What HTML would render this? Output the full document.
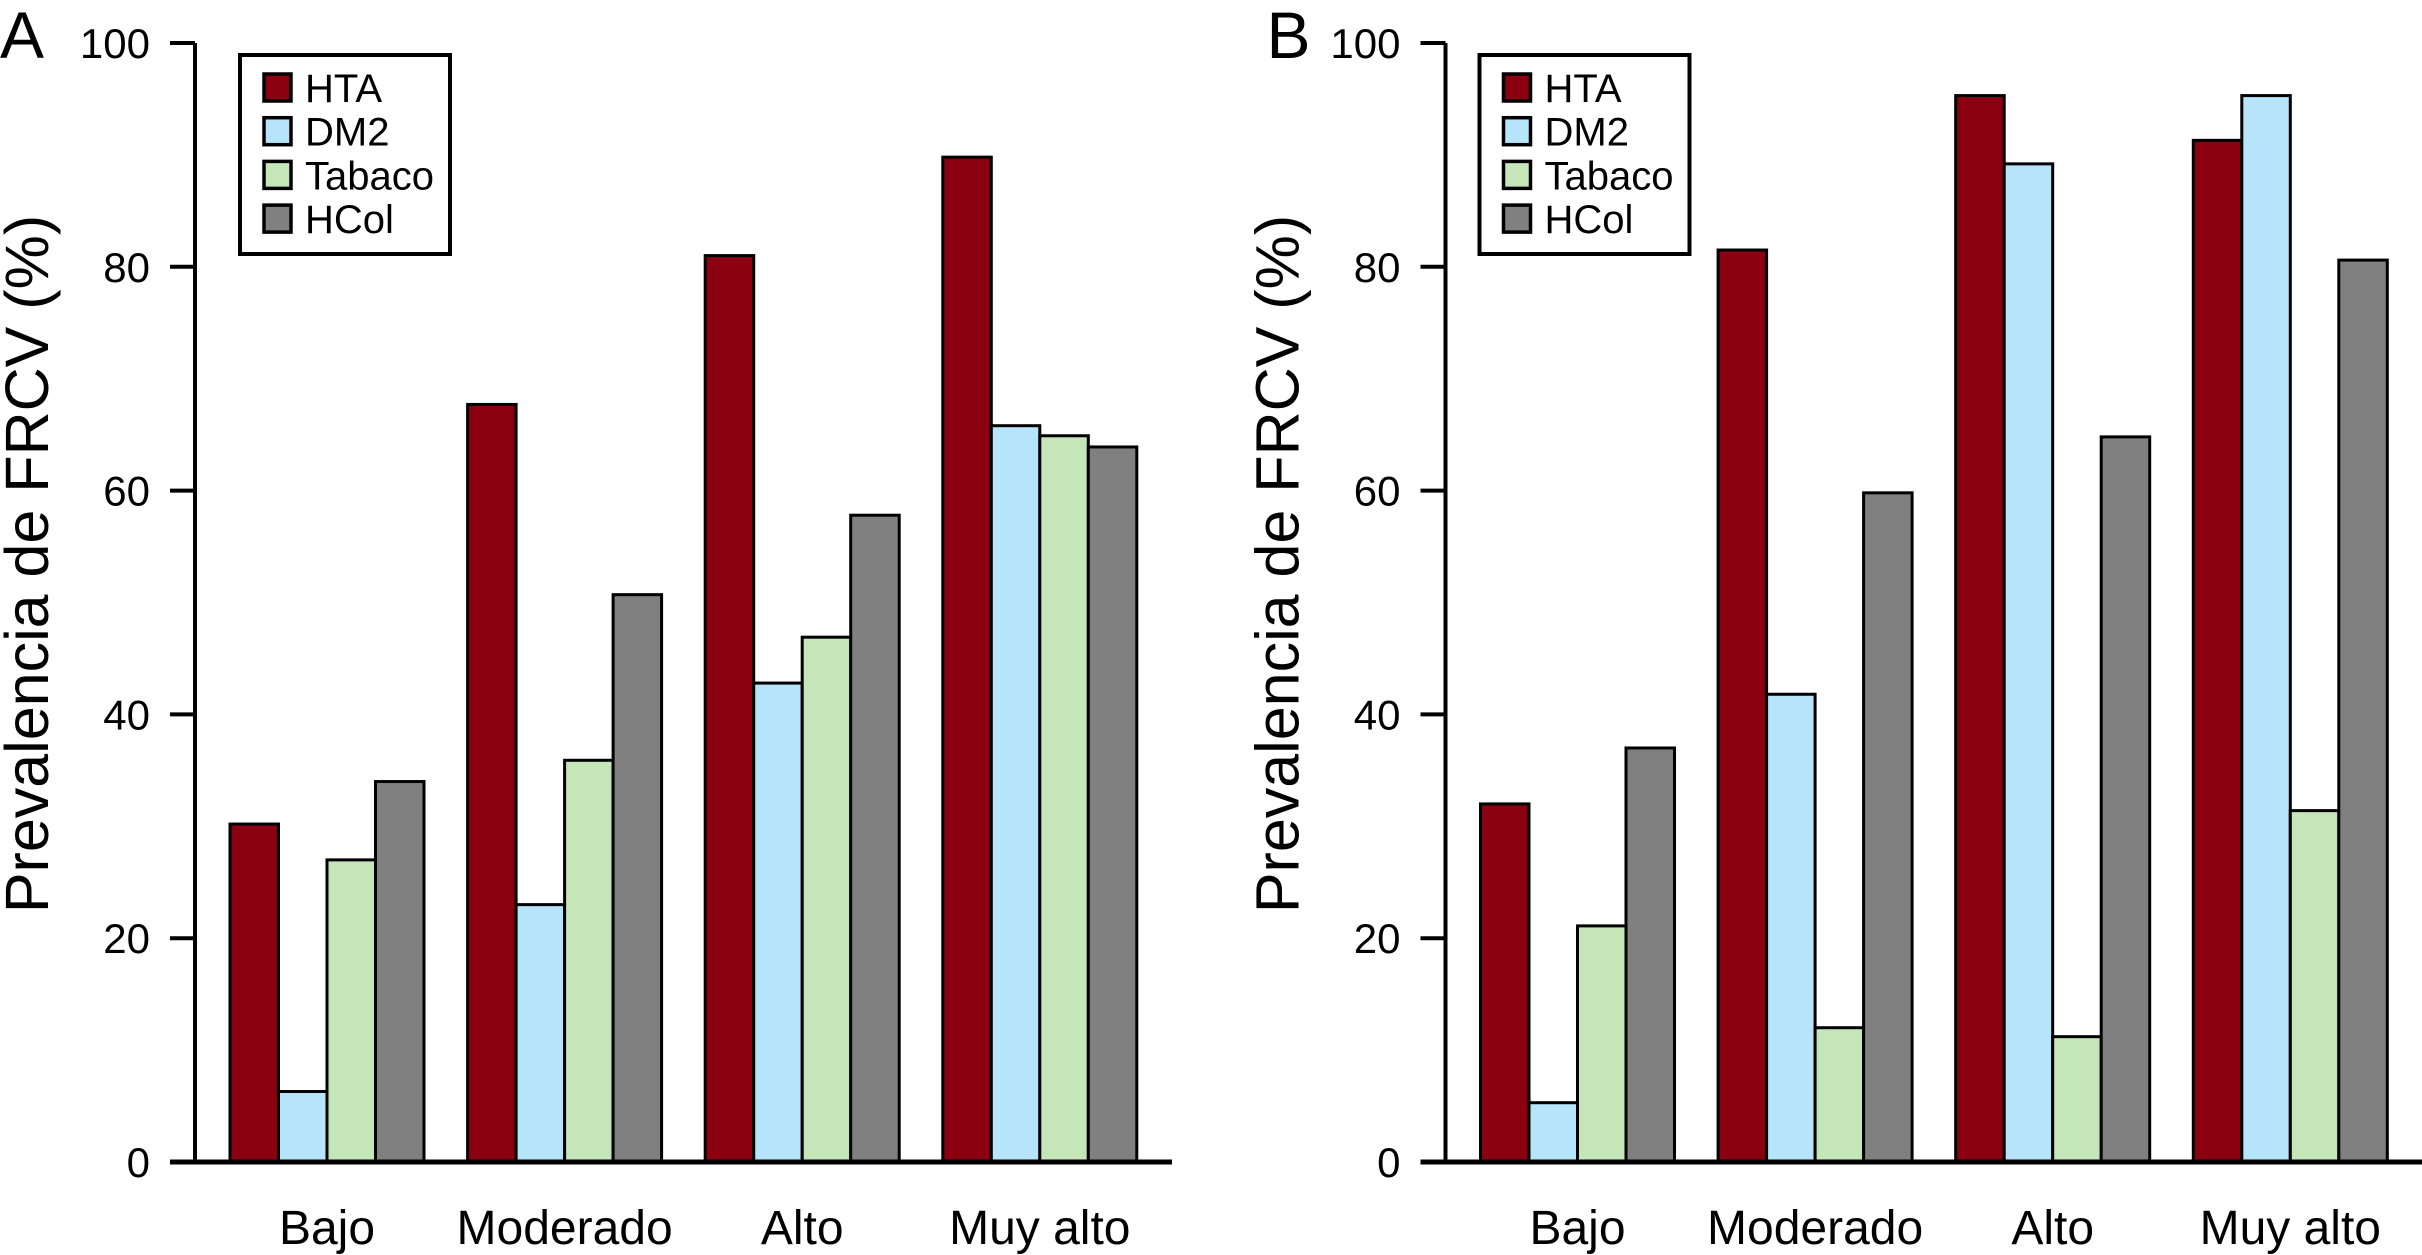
<!DOCTYPE html>
<html><head><meta charset="utf-8"><style>
html,body{margin:0;padding:0;background:#fff;}
svg{display:block;font-family:"Liberation Sans",Arial,sans-serif;}
</style></head><body>
<svg id="chart" width="2422" height="1255" viewBox="0 0 2422 1255" xmlns="http://www.w3.org/2000/svg"></svg>
<script>
const categories = ["Bajo","Moderado","Alto","Muy alto"];
const seriesNames = ["HTA","DM2","Tabaco","HCol"];
const seriesColors = ["#8b0010","#b5e4fb","#c5e6b8","#808080"];
const yTicks = [0,20,40,60,80,100];
const aHTA = [30.2,67.7,81,89.8];
const aDM2 = [6.3,23,42.8,65.8];
const aTabaco = [27,35.9,46.9,64.9];
const aHCol = [34,50.7,57.8,63.9];
const bHTA = [32,81.5,95.3,91.3];
const bDM2 = [5.3,41.8,89.2,95.3];
const bTabaco = [21.1,12,11.2,31.4];
const bHCol = [37,59.8,64.8,80.6];

const NS="http://www.w3.org/2000/svg";
const svg=document.getElementById('chart');
function mk(tag,attrs,parent){const e=document.createElementNS(NS,tag);for(const k in attrs)e.setAttribute(k,attrs[k]);(parent||svg).appendChild(e);return e;}
const y0=1162,y100=43;
function yScale(v){return y0-(y0-y100)*v/100;}

function panel(ox,letter,series,key){
  const g=mk('g',{});
  
  
  const axisX=ox+195, barW=48.5, groupStep=237.6, firstBar=ox+230;
  function xScale(ci,si){return firstBar+ci*groupStep+si*barW;}
  series.forEach((vals,si)=>{
    vals.forEach((v,ci)=>{
      const r=mk('rect',{x:xScale(ci,si),y:yScale(v),width:barW,height:y0-yScale(v),fill:seriesColors[si],stroke:'#000','stroke-width':3},g);
      
      
    });
  });
  const ya=mk('line',{x1:axisX,y1:yScale(100),x2:axisX,y2:y0,stroke:'#000','stroke-width':4},g);
  
  
  const xa=mk('line',{x1:ox+170,y1:y0,x2:key==='a'?ox+1172:2422,y2:y0,stroke:'#000','stroke-width':5},g);
  
  
  yTicks.forEach(t=>{
    const y=yScale(t);
    if(t>0){mk('line',{x1:ox+170,y1:y,x2:axisX,y2:y,stroke:'#000','stroke-width':4},g);}
    const tx=mk('text',{x:ox+150,y:y+15,'font-size':42,'text-anchor':'end'},g);
    tx.textContent=t;
    
    
  });
  categories.forEach((c,ci)=>{
    const cx=xScale(ci,0)+barW*2;
    const tx=mk('text',{x:cx,y:1244,'font-size':48,'text-anchor':'middle'},g);
    tx.textContent=c;
    
    
  });
  const yt=mk('text',{x:0,y:0,'font-size':61,'text-anchor':'middle',transform:'translate('+(ox+48)+',564) rotate(-90)'},g);
  yt.textContent='Prevalencia de FRCV (%)';
  
  
  const pl=mk('text',{x:ox+(key==='a'?0:16),y:58,'font-size':66},g);
  pl.textContent=letter;
  
  
  const lx=ox+(key==='a'?240:229);
  const lg=mk('g',{},g);
  
  
  mk('rect',{x:lx,y:55,width:210,height:199,fill:'#fff',stroke:'#000','stroke-width':4},lg);
  seriesNames.forEach((n,si)=>{
    const ry=74+si*43.7;
    const e=mk('g',{},lg);
    
    
    mk('rect',{x:lx+24,y:ry,width:27,height:27,fill:seriesColors[si],stroke:'#000','stroke-width':3.5},e);
    const t=mk('text',{x:lx+65,y:ry+28,'font-size':40},e);
    t.textContent=n;
  });
}
panel(0,'A',[aHTA,aDM2,aTabaco,aHCol],'a');
panel(1250.5,'B',[bHTA,bDM2,bTabaco,bHCol],'b');
</script>
</body></html>
